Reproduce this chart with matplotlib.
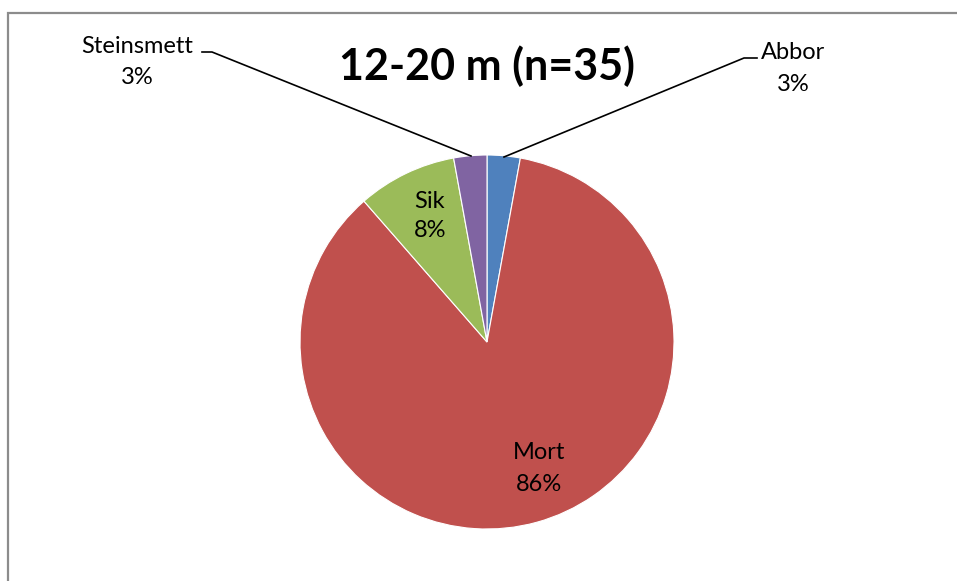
import matplotlib
matplotlib.use("Agg")
import matplotlib.pyplot as plt
from matplotlib.patches import Rectangle

plt.rcParams["font.family"] = ["Lato", "DejaVu Sans"]

# data: fish counts at 12-20 m (n=35), shown percentages as printed on the chart
species = ["Abbor", "Mort", "Sik", "Steinsmett"]
counts = [1, 30, 3, 1]
pct_labels = ["3%", "86%", "8%", "3%"]
colors = ["#4F81BD", "#C0504D", "#9BBB59", "#8064A2"]
title = "12-20 m (n=35)"

W, H = 957, 581
fig = plt.figure(figsize=(W / 100, H / 100), dpi=100)
ax = fig.add_axes([0, 0, 1, 1])


def py(y):
    # pixel row -> data y
    return H - y


ax.pie(counts, colors=colors, startangle=90, counterclock=False,
       center=(487, py(342)), radius=187, frame=True,
       wedgeprops=dict(edgecolor="white", linewidth=0.8))
ax.set_xlim(0, W)
ax.set_ylim(0, H)
ax.set_aspect("equal")
ax.axis("off")

fs = 17


def label(i, x, y1, y2):
    # two-line data label, placed by baselines
    ax.text(x, py(y1), species[i], ha="center", va="baseline", fontsize=fs)
    ax.text(x, py(y2), pct_labels[i], ha="center", va="baseline", fontsize=fs)


label(2, 430, 208, 237)
label(1, 539, 459, 491)
label(3, 137, 53, 84)
label(0, 793, 59, 91)

# leader lines for the outside labels
ax.plot([202, 212, 471], [py(52), py(52), py(156)], color="black", lw=1.2)
ax.plot([757, 744, 504], [py(58), py(58), py(157)], color="black", lw=1.2)

ax.text(487, py(80), title, ha="center", va="baseline", fontsize=31,
        fontweight="bold")

# chart area border (right/bottom edges fall outside the picture)
ax.add_patch(Rectangle((7.5, -10), W, py(13) + 10, fill=False,
                       edgecolor="#8c8c8c", lw=1.6, clip_on=False))

fig.savefig("out.png", dpi=100)
